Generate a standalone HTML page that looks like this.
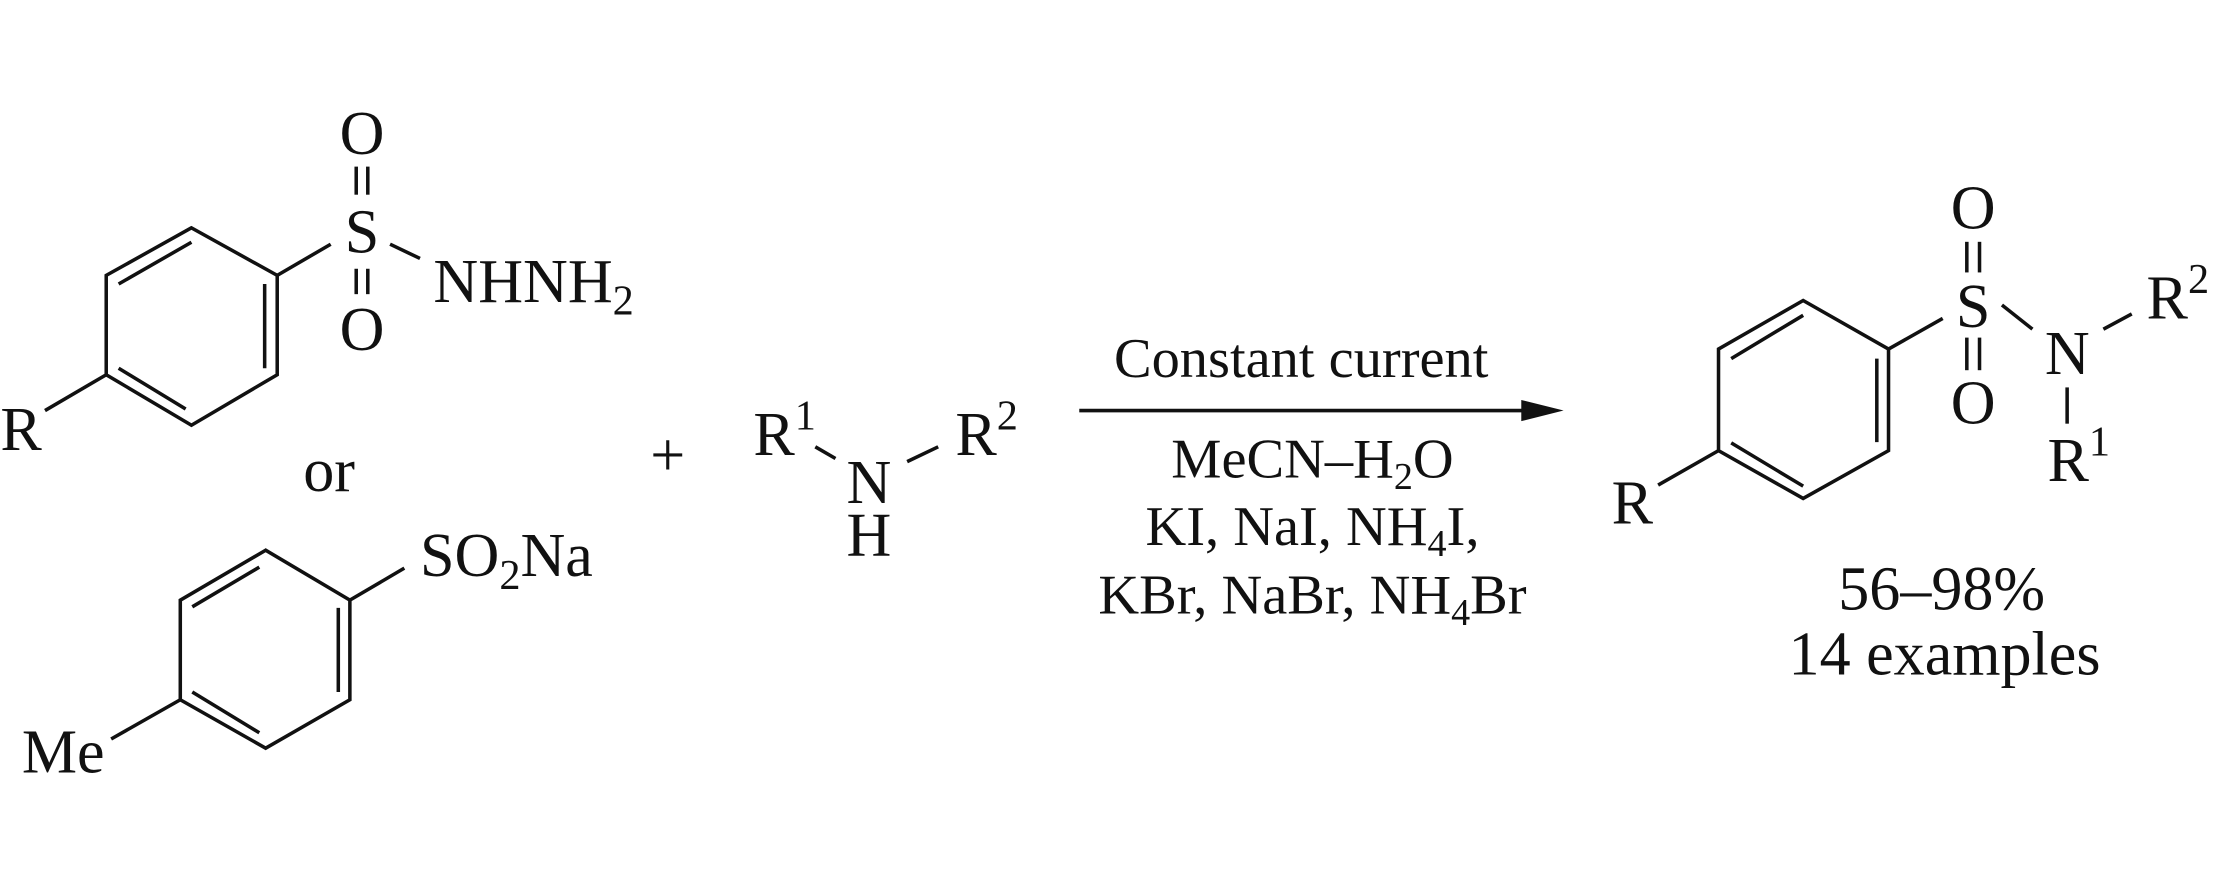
<!DOCTYPE html>
<html><head><meta charset="utf-8"><style>
html,body{margin:0;padding:0;background:#fff;}
svg{display:block;}
text{font-family:"Liberation Serif","Times New Roman",serif;fill:#111;}
</style></head><body>
<svg width="2213" height="886" viewBox="0 0 1568 628" xmlns="http://www.w3.org/2000/svg">
<g stroke="#111" stroke-width="2.5" fill="none" stroke-linecap="butt">
<!-- ring 1 -->
<polygon points="135.4,161.5 75,195.2 75,265.6 135.4,301.4 196.2,265.6 196.2,195.2"/>
<line x1="83.8" y1="201.3" x2="135.4" y2="171.7"/>
<line x1="187.3" y1="201.3" x2="187.3" y2="261"/>
<line x1="83.8" y1="261" x2="131.3" y2="289.9"/>
<line x1="31.6" y1="291" x2="75" y2="265.6"/>
<line x1="196.2" y1="195.2" x2="234.1" y2="173.1"/>
<line x1="276.2" y1="173.1" x2="297.4" y2="183.2"/>
<line x1="252.2" y1="118.1" x2="252.2" y2="138"/>
<line x1="260.4" y1="118.1" x2="260.4" y2="138"/>
<line x1="252.2" y1="190.5" x2="252.2" y2="208.5"/>
<line x1="260.4" y1="190.5" x2="260.4" y2="208.5"/>
<!-- ring 2 -->
<polygon points="188,390 127.5,425.4 127.5,496 188,530.3 247.7,496 247.7,425.4"/>
<line x1="136" y1="430.1" x2="183.5" y2="402"/>
<line x1="239.5" y1="430.9" x2="239.5" y2="490.5"/>
<line x1="136" y1="490.5" x2="183.5" y2="519.4"/>
<line x1="78.5" y1="523.8" x2="127.5" y2="496"/>
<line x1="247.7" y1="425.4" x2="286.3" y2="402.7"/>
<!-- amine -->
<line x1="577.6" y1="316.7" x2="591.9" y2="325"/>
<line x1="642.7" y1="327.2" x2="664.7" y2="316.7"/>
<!-- arrow -->
<line x1="764.7" y1="291" x2="1085" y2="291"/>
<!-- product ring -->
<polygon points="1277.8,213 1217.8,247.4 1217.8,319.4 1277.8,353.3 1338.3,319.4 1338.3,247.4"/>
<line x1="1226.8" y1="254.2" x2="1277.8" y2="223.5"/>
<line x1="1330" y1="254.2" x2="1330" y2="313.4"/>
<line x1="1226.8" y1="313.9" x2="1277.8" y2="344.6"/>
<line x1="1175" y1="343.8" x2="1217.8" y2="319.4"/>
<line x1="1338.3" y1="247.4" x2="1376.7" y2="225.7"/>
<line x1="1393.8" y1="171.4" x2="1393.8" y2="193.1"/>
<line x1="1402.8" y1="171.4" x2="1402.8" y2="193.1"/>
<line x1="1393.8" y1="239.3" x2="1393.8" y2="262.4"/>
<line x1="1402.8" y1="239.3" x2="1402.8" y2="262.4"/>
<line x1="1418.7" y1="216.2" x2="1440.3" y2="233.3"/>
<line x1="1490.6" y1="233.3" x2="1510.7" y2="222.5"/>
<line x1="1464.9" y1="274.6" x2="1464.9" y2="300.3"/>
</g>
<polygon points="1108,291 1078,283.5 1078,298.5" fill="#111"/>

<g font-size="44">
<text x="256.3" y="109" text-anchor="middle">O</text>
<text x="256.3" y="179" text-anchor="middle">S</text>
<text x="256.3" y="248" text-anchor="middle">O</text>
<text x="306.9" y="214">NHNH<tspan font-size="30" dy="9">2</tspan></text>
<text x="0" y="319">R</text>
<text x="233" y="348" text-anchor="middle">or</text>
<text x="473" y="337" text-anchor="middle">+</text>
<text x="15.2" y="547.6">Me</text>
<text x="297.4" y="408.4">SO<tspan font-size="30" dy="9">2</tspan><tspan dy="-9">Na</tspan></text>

<text x="533.7" y="322.4">R<tspan font-size="30" dy="-18">1</tspan></text>
<text x="615.6" y="356.5" text-anchor="middle">N</text>
<text x="615.6" y="393.8" text-anchor="middle">H</text>
<text x="676.9" y="322.4">R<tspan font-size="30" dy="-18">2</tspan></text>

<text x="1142" y="371">R</text>
<text x="1398.3" y="162" text-anchor="middle">O</text>
<text x="1398.3" y="231.7" text-anchor="middle">S</text>
<text x="1398.3" y="300.3" text-anchor="middle">O</text>
<text x="1465" y="265" text-anchor="middle">N</text>
<text x="1521.2" y="225.7">R<tspan font-size="30" dy="-18">2</tspan></text>
<text x="1451" y="341">R<tspan font-size="30" dy="-18">1</tspan></text>
<text x="1376" y="432" text-anchor="middle">56–98%</text>
<text x="1378" y="478" text-anchor="middle">14 examples</text>
</g>
<g font-size="40" text-anchor="middle">
<text x="922" y="267.2">Constant current</text>
<text x="930" y="338.6">MeCN–H<tspan font-size="27" dy="8">2</tspan><tspan dy="-8">O</tspan></text>
<text x="930" y="386.2">KI, NaI, NH<tspan font-size="27" dy="8">4</tspan><tspan dy="-8">I,</tspan></text>
<text x="930" y="435">KBr, NaBr, NH<tspan font-size="27" dy="8">4</tspan><tspan dy="-8">Br</tspan></text>
</g>
</svg>
</body></html>
